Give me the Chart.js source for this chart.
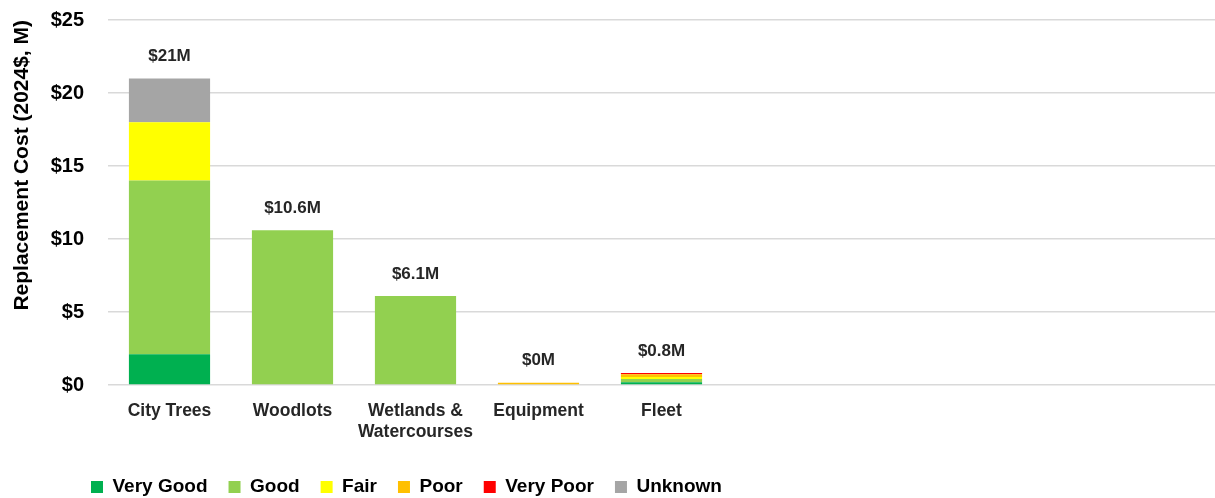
<!DOCTYPE html>
<html>
<head>
<meta charset="utf-8">
<script src="https://cdn.jsdelivr.net/npm/chart.js@4.4.1/dist/chart.umd.min.js"></script>
<style>
  html, body { margin: 0; padding: 0; background: #fff; }
  #wrap { width: 1215px; height: 498px; }
</style>
</head>
<body>
<div id="wrap"><canvas id="chart"></canvas></div>
<script>
const categories = ['City Trees', 'Woodlots', ['Wetlands &', 'Watercourses'], 'Equipment', 'Fleet', '', '', '', ''];
const veryGood = [2.1, 0, 0, 0, 0.18];
const good = [11.9, 10.6, 6.1, 0, 0.23];
const fair = [4.0, 0, 0, 0, 0.14];
const poor = [0, 0, 0, 0.16, 0.18];
const veryPoor = [0, 0, 0, 0, 0.09];
const unknown = [3.0, 0, 0, 0, 0];
const totalLabels = ['$21M', '$10.6M', '$6.1M', '$0M', '$0.8M'];
const yTicks = [0, 5, 10, 15, 20, 25];

const FONT = "'Liberation Sans', Arial, sans-serif";

const totalsPlugin = {
    id: 'totals',
    afterDatasetsDraw(chart) {
        const ctx = chart.ctx;
        const x = chart.scales.x;
        const y = chart.scales.y;
        ctx.save();
        ctx.font = `bold 17px ${FONT}`;
        ctx.fillStyle = '#262626';
        ctx.textAlign = 'center';
        ctx.textBaseline = 'middle';
        totalLabels.forEach((lbl, i) => {
            let sum = 0;
            chart.data.datasets.forEach(ds => { sum += ds.data[i] || 0; });
            ctx.fillText(lbl, x.getPixelForValue(i), y.getPixelForValue(sum) - 22);
        });
        ctx.restore();
    }
};

// legend sits a bit right of the canvas edge and low in the bottom strip
const legendShift = {
    id: 'legendShift',
    afterLayout(chart) {
        const lg = chart.legend;
        const h = lg.height;
        lg.left = 70;
        lg.top = 487 - 21 - 9.5;
        lg.bottom = lg.top + h;
    }
};

const mk = (label, data, color) => ({
    label, data, backgroundColor: color, borderWidth: 0,
    barPercentage: 0.66, categoryPercentage: 1.0
});

new Chart(document.getElementById('chart'), {
    type: 'bar',
    data: {
        labels: categories,
        datasets: [
            mk('Very Good', veryGood, '#00B050'),
            mk('Good', good, '#92D050'),
            mk('Fair', fair, '#FFFF00'),
            mk('Poor', poor, '#FFC000'),
            mk('Very Poor', veryPoor, '#FF0000'),
            mk('Unknown', unknown, '#A5A5A5')
        ]
    },
    plugins: [totalsPlugin, legendShift],
    options: {
        responsive: true,
        maintainAspectRatio: false,
        animation: false,
        layout: { padding: { left: 0, right: 0, top: 20, bottom: 0 } },
        plugins: {
            tooltip: { enabled: false },
            legend: {
                position: 'bottom',
                align: 'start',
                labels: {
                    boxWidth: 12,
                    boxHeight: 12,
                    padding: 21,
                    color: '#000',
                    font: { family: FONT, size: 19, weight: 'bold' }
                }
            }
        },
        scales: {
            x: {
                stacked: true,
                grid: { display: false, drawTicks: false },
                border: { display: false },
                ticks: {
                    color: '#262626',
                    padding: 16,
                    maxRotation: 0,
                    autoSkip: false,
                    font: { family: FONT, size: 17.5, weight: 'bold' }
                },
                afterFit(scale) {
                    const lg = scale.chart.legend;
                    scale.height = 113 - (lg ? lg.height : 0);
                }
            },
            y: {
                stacked: true,
                min: 0,
                max: 25,
                afterBuildTicks(scale) { scale.ticks = yTicks.map(v => ({ value: v })); },
                grid: { color: '#d9d9d9', lineWidth: 1.5, drawTicks: false },
                border: { display: false },
                ticks: {
                    color: '#000',
                    padding: 24,
                    font: { family: FONT, size: 20, weight: 'bold' },
                    callback: v => '$' + v
                },
                title: {
                    display: true,
                    text: 'Replacement Cost (2024$, M)',
                    align: 'end',
                    color: '#000',
                    padding: { top: 10, bottom: 0 },
                    font: { family: FONT, size: 21, weight: 'bold' }
                },
                afterFit(scale) {
                    scale.width = 108;
                    scale.paddingTop = 0;
                    scale.paddingBottom = 0;
                }
            }
        }
    }
});
</script>
</body>
</html>
